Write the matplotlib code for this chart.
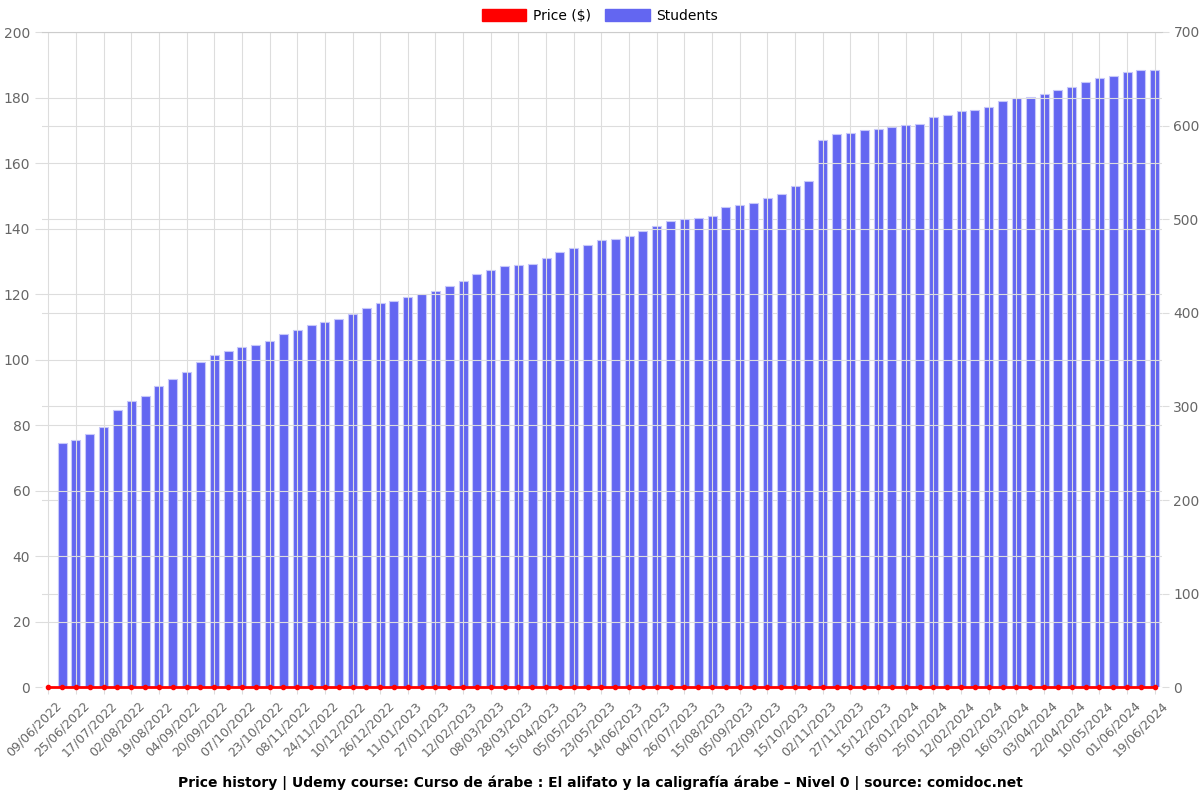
import numpy as np
import matplotlib.pyplot as plt
from matplotlib.patches import Patch
from matplotlib.transforms import ScaledTranslation

# tick labels (every second data point is labelled)
date_labels = [
    "09/06/2022", "25/06/2022", "17/07/2022", "02/08/2022", "19/08/2022",
    "04/09/2022", "20/09/2022", "07/10/2022", "23/10/2022", "08/11/2022",
    "24/11/2022", "10/12/2022", "26/12/2022", "11/01/2023", "27/01/2023",
    "12/02/2023", "08/03/2023", "28/03/2023", "15/04/2023", "05/05/2023",
    "23/05/2023", "14/06/2023", "04/07/2023", "26/07/2023", "15/08/2023",
    "05/09/2023", "22/09/2023", "15/10/2023", "02/11/2023", "27/11/2023",
    "15/12/2023", "05/01/2024", "25/01/2024", "12/02/2024", "29/02/2024",
    "16/03/2024", "03/04/2024", "22/04/2024", "10/05/2024", "01/06/2024",
    "19/06/2024",
]

# students per data point (first point has no bar)
students = [
    0, 261, 264, 270, 278, 296, 306, 311, 322, 329,
    337, 347, 355, 359, 363, 366, 370, 377, 382, 387,
    390, 393, 399, 405, 410, 413, 417, 420, 423, 429,
    434, 441, 446, 450, 451, 452, 459, 465, 469, 472,
    478, 479, 482, 487, 493, 498, 500, 501, 503, 513,
    515, 517, 523, 527, 535, 541, 585, 591, 592, 595,
    596, 598, 601, 602, 609, 611, 616, 617, 620, 626,
    630, 631, 634, 638, 641, 647, 651, 653, 657, 659,
    659,
]

# price in dollars, free the whole time
price = [0] * len(students)

x = np.arange(len(students))

fig = plt.figure(figsize=(12, 8), dpi=100)
ax = fig.add_axes([0.035, 0.141, 0.933, 0.819])
ax2 = ax.twinx()

grid_col = "#dddddd"
txt_col = "#666666"

# bars on the right axis
ax2.bar(x, students, width=0.65, color="#6366f1", edgecolor="#c7c8fa",
        linewidth=0.8, zorder=2, label="Students")
ax2.set_ylim(0, 700)
ax2.set_yticks(np.arange(0, 701, 100))
ax2.grid(axis="y", color=grid_col, linewidth=0.8)

# price line on the left axis
ax.set_zorder(ax2.get_zorder() + 1)
ax.patch.set_visible(False)
ax.plot(x, price, color="red", linewidth=2, marker="o", markersize=3,
        zorder=3, clip_on=False, label="Price ($)")
ax.set_ylim(0, 200)
ax.set_yticks(np.arange(0, 201, 20))
ax.grid(axis="y", color=grid_col, linewidth=0.8)

ax.set_xlim(-0.45, 80.5)
ax.set_xticks(x[::2])
ax.set_xticklabels(date_labels, rotation=45, ha="right", rotation_mode="anchor")
ax.grid(axis="x", color=grid_col, linewidth=0.8)
ax2.set_axisbelow(True)

for a in (ax, ax2):
    for s in a.spines.values():
        s.set_visible(False)
    a.tick_params(colors=txt_col, labelsize=10, length=5, width=0.8)
    a.tick_params(axis="both", color=grid_col)
ax.tick_params(axis="x", labelsize=9)
ax.spines["top"].set_visible(True)
ax.spines["top"].set_color("#cccccc")

# nudge the date labels a bit to the right, like the original
shift = ScaledTranslation(7 / 100, 0, fig.dpi_scale_trans)
for lbl in ax.get_xticklabels():
    lbl.set_transform(lbl.get_transform() + shift)

# legend at the top
handles = [Patch(color="red", label="Price ($)"),
           Patch(color="#6366f1", label="Students")]
fig.legend(handles=handles, loc="upper center", bbox_to_anchor=(0.5, 1.005),
           ncol=2, frameon=False, fontsize=10, handlelength=3.2,
           handleheight=1.0, columnspacing=1.0, handletextpad=0.5)

fig.text(0.5, 0.021,
         "Price history | Udemy course: Curso de árabe : El alifato y la caligrafía árabe – Nivel 0 | source: comidoc.net",
         ha="center", va="center", fontsize=10, fontweight="bold")

fig.savefig("out.png", dpi=100)
